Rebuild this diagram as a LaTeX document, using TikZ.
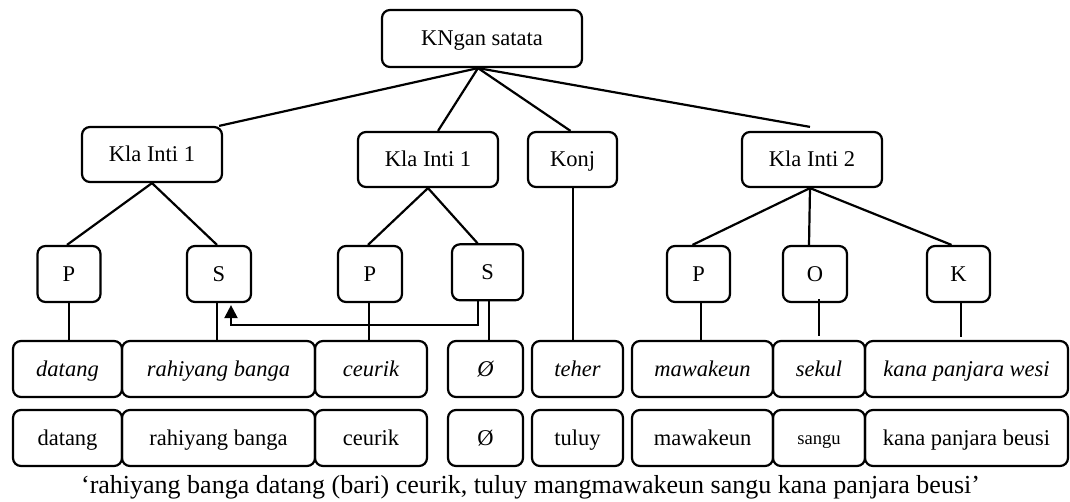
\documentclass[tikz,border=0pt]{standalone}
\usepackage{fontspec}
\setmainfont{Liberation Serif}
\usetikzlibrary{calc,arrows.meta}
\begin{document}
\begin{tikzpicture}[x=1pt,y=-1pt,
  box/.style={draw, line width=2.2pt, rounded corners=8pt, inner sep=0pt,
    text height=14.9pt, text depth=0pt, align=center,
    font=\fontsize{22.5}{26}\selectfont},
  gloss/.style={box, minimum height=56pt, font=\fontsize{22.5}{26}\selectfont\itshape},
  trans/.style={box, minimum height=56pt},
  link/.style={line width=2.2pt},
]
\path[use as bounding box] (0,0) rectangle (1070,502);

% root
\node[box, minimum width=200pt, minimum height=57pt] (top) at (482,38.5) {KNgan satata};

% clauses and conjunction
\node[box, minimum width=140pt, minimum height=55pt] (klaA) at (152,154.5) {Kla Inti 1};
\node[box, minimum width=140pt, minimum height=55pt] (klaB) at (428,159.5) {Kla Inti 1};
\node[box, minimum width=89pt,  minimum height=55pt] (konj) at (572.5,159.5) {Konj};
\node[box, minimum width=140pt, minimum height=55pt] (klaC) at (812,159.5) {Kla Inti 2};

% functions
\node[box, minimum width=63pt, minimum height=56pt] (pA) at (69,274) {P};
\node[box, minimum width=64pt, minimum height=56pt] (sA) at (219,274) {S};
\node[box, minimum width=64pt, minimum height=56pt] (pB) at (370,274) {P};
\node[box, minimum width=71pt, minimum height=56pt] (sB) at (487.5,272.3) {S};
\node[box, minimum width=63pt, minimum height=56pt] (pC) at (698.5,274) {P};
\node[box, minimum width=64pt, minimum height=56pt] (oC) at (815,274) {O};
\node[box, minimum width=63pt, minimum height=56pt] (kC) at (958.5,274) {K};

% original words
\node[gloss, minimum width=109pt] (g1) at (67.5,369) {datang};
\node[gloss, minimum width=193pt] (g2) at (218.5,369) {rahiyang banga};
\node[gloss, minimum width=112pt] (g3) at (371,369) {ceurik};
\node[gloss, minimum width=75pt]  (g4) at (485.5,369) {Ø};
\node[gloss, minimum width=91pt]  (g5) at (577.5,369) {teher};
\node[gloss, minimum width=141pt] (g6) at (702.5,369) {mawakeun};
\node[gloss, minimum width=92pt]  (g7) at (819,369) {sekul};
\node[gloss, minimum width=203pt] (g8) at (966.5,369) {kana panjara wesi};

% modern words
\node[trans, minimum width=109pt] (t1) at (67.5,438) {datang};
\node[trans, minimum width=193pt] (t2) at (218.5,438) {rahiyang banga};
\node[trans, minimum width=112pt] (t3) at (371,438) {ceurik};
\node[trans, minimum width=75pt]  (t4) at (485.5,438) {Ø};
\node[trans, minimum width=91pt]  (t5) at (577.5,438) {tuluy};
\node[trans, minimum width=141pt] (t6) at (702.5,438) {mawakeun};
\node[trans, minimum width=92pt, text height=12.3pt, font=\fontsize{18.6}{22}\selectfont] (t7) at (819,438) {sangu};
\node[trans, minimum width=203pt] (t8) at (966.5,438) {kana panjara beusi};

% caption
\node[anchor=base, inner sep=0pt, font=\fontsize{26}{30}\selectfont] (cap) at (530.5,493)
  {‘rahiyang banga datang (bari) ceurik, tuluy mangmawakeun sangu kana panjara beusi’};

% tree branches
\coordinate (apex) at ($(top.south)+(-4,0)$);
\draw[link] (apex) -- ($(klaA.north east)+(-4,0)$);
\draw[link] (apex) -- ($(klaB.north)+(10,0)$);
\draw[link] (apex) -- ($(konj.north)+(-2,0)$);
\draw[link] (apex) -- ($(klaC.north)+(-2,-4)$);

\draw[link] (klaA.south) -- ($(pA.north)+(-2,0)$);
\draw[link] (klaA.south) -- ($(sA.north)+(-2,0)$);
\draw[link] (klaB.south) -- ($(pB.north)+(-2,0)$);
\draw[link] (klaB.south) -- ($(sB.north)+(-10,0)$);
\coordinate (apexC) at ($(klaC.south)+(-2,0)$);
\draw[link] (apexC) -- ($(pC.north)+(-6,0)$);
\draw[link] (apexC) -- ($(oC.north)+(-6,0)$);
\draw[link] (apexC) -- ($(kC.north)+(-7,0)$);

% functions down to words
\coordinate (dA) at ($(sA.south)+(-2,0)$);
\coordinate (dB) at ($(pB.south)+(-1,0)$);
\coordinate (dS) at ($(sB.south)+(1.5,0)$);
\coordinate (dK) at ($(konj.south)+(0.5,0)$);
\coordinate (dP) at ($(pC.south)+(2.5,0)$);
\coordinate (dC) at ($(kC.south)+(2.5,0)$);
\coordinate (eC) at ($(g8.north)+(0,-3)$);
\draw[link] (pA.south) -- (pA.south |- g1.north);
\draw[link] (dA) -- (dA |- g2.north);
\draw[link] (dB) -- (dB |- g3.north);
\draw[link] (dS) -- (dS |- g4.north);
\draw[link] (dK) -- (dK |- g5.north);
\draw[link] (dP) -- (dP |- g6.north);
\draw[link] ($(oC.south)+(4,-4)$) -- ($(g7.north)+(0,-4)$);
\draw[link] (dC) -- (dC |- eC);

% the empty subject refers back to the first subject
\draw[link, -{Triangle[length=13pt, width=13pt]}]
  ($(sB.south)+(-9.5,0)$) -- ++(0,23.3) -| ($(sA.south)+(12,2)$);
\end{tikzpicture}
\end{document}
